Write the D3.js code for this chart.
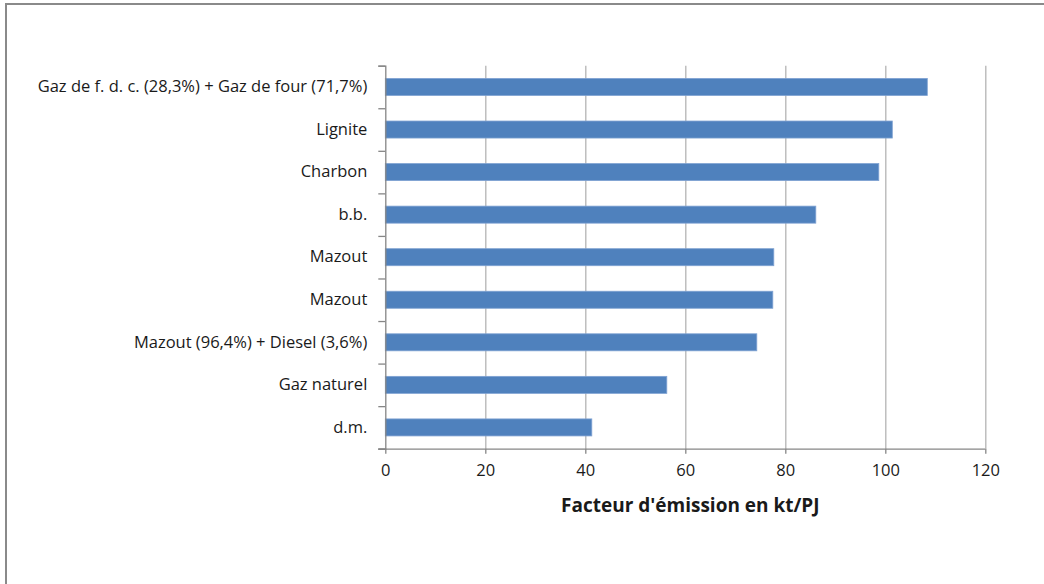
<!DOCTYPE html>
<html>
<head>
<meta charset="utf-8">
<script src="https://cdn.jsdelivr.net/npm/d3@7"></script>
<style>
  body { margin: 0; background: #fff; }
  svg text { font-family: "Open Sans", sans-serif; fill: #1a1a1a; }
</style>
</head>
<body>
<svg id="chart" width="1044" height="584"></svg>
<script>
// categories top to bottom, values in kt/PJ
const categories = [
    "Gaz de f. d. c. (28,3%) + Gaz de four (71,7%)",
    "Lignite",
    "Charbon",
    "b.b.",
    "Mazout ",
    "Mazout",
    "Mazout (96,4%) + Diesel (3,6%)",
    "Gaz naturel",
    "d.m."
];
const values = [108.4, 101.4, 98.7, 86.1, 77.7, 77.5, 74.3, 56.3, 41.3];
const xTicks = [0, 20, 40, 60, 80, 100, 120];
const xTitle = "Facteur d'émission en kt/PJ";

const svg = d3.select("#chart");
const margin = { left: 385.3, top: 65.7, right: 58.7, bottom: 135.3 };
const width = 1044 - margin.left - margin.right;
const height = 584 - margin.top - margin.bottom;

// chart frame (cropped at right and bottom)
svg.append("path")
    .attr("d", "M6,584V4H1044")
    .attr("fill", "none")
    .attr("stroke", "#8a8a8a")
    .attr("stroke-width", 2);

const g = svg.append("g")
    .attr("transform", `translate(${margin.left},${margin.top})`);

const xScale = d3.scaleLinear().domain([0, 120]).range([0, width]);
const yScale = d3.scaleBand()
    .domain(categories)
    .range([0, height])
    .paddingInner(0.6)
    .paddingOuter(0.3);

// vertical gridlines
g.append("g")
    .attr("class", "grid")
    .call(d3.axisBottom(xScale).tickValues(xTicks.slice(1)).tickSize(height).tickFormat(""))
    .call(a => a.select(".domain").remove())
    .call(a => a.selectAll("line").attr("stroke", "#b4b4b4").attr("stroke-width", 1.3));

// bars
g.selectAll("rect.bar")
    .data(values)
    .enter().append("rect")
    .attr("class", "bar")
    .attr("x", xScale(0))
    .attr("y", (d, i) => yScale(categories[i]))
    .attr("width", d => xScale(d))
    .attr("height", yScale.bandwidth())
    .attr("fill", "#4f81bd")
    .attr("stroke", "#7fa2d2")
    .attr("stroke-width", 0.8);

// x axis
const xAxis = g.append("g")
    .attr("transform", `translate(0,${height})`)
    .call(d3.axisBottom(xScale).tickValues(xTicks).tickSize(5).tickPadding(11));
xAxis.select(".domain").attr("stroke", "#868686").attr("stroke-width", 1.3)
    .attr("d", `M-7,0.5H${width}`);
xAxis.selectAll("line").attr("stroke", "#868686").attr("stroke-width", 1.3);
xAxis.selectAll("text")
    .attr("font-size", 16.5)
    .attr("fill", "#1a1a1a")
    .style("font-family", "'Open Sans', sans-serif");

// y axis: line with ticks at category boundaries
const yBound = d3.scaleLinear().domain([0, categories.length]).range([0, height]);
const yAxis = g.append("g")
    .call(d3.axisLeft(yBound).ticks(categories.length).tickSize(7).tickSizeOuter(7).tickFormat(""));
yAxis.select(".domain").attr("stroke", "#868686").attr("stroke-width", 1.3);
yAxis.selectAll("line").attr("stroke", "#868686").attr("stroke-width", 1.3);

// category labels
const yLabels = g.append("g")
    .call(d3.axisLeft(yScale).tickSize(0).tickPadding(18));
yLabels.select(".domain").remove();
yLabels.selectAll("text")
    .attr("font-size", 16.5)
    .attr("fill", "#1a1a1a")
    .style("font-family", "'Open Sans', sans-serif");

// axis title
g.append("text")
    .attr("x", width / 2 + 5)
    .attr("y", height + 63)
    .attr("text-anchor", "middle")
    .attr("font-size", 19)
    .attr("font-weight", "bold")
    .text(xTitle);
</script>
</body>
</html>
